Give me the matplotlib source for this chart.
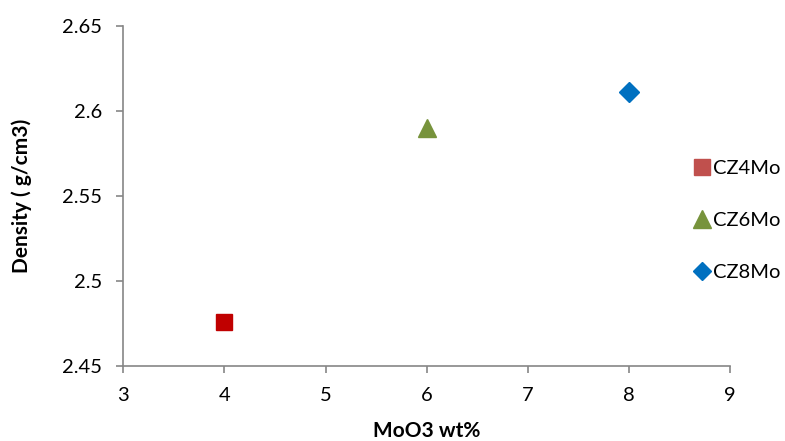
import matplotlib.pyplot as plt
from matplotlib.lines import Line2D

# data
samples = ['CZ4Mo', 'CZ6Mo', 'CZ8Mo']
moo3 = [4, 6, 8]
density = [2.476, 2.590, 2.611]

markers = ['s', '^', 'D']
point_colors = ['#C00000', '#77933C', '#0070C0']
legend_colors = ['#C0504D', '#77933C', '#0070C0']
sizes = [12, 13, 10]

plt.rcParams['font.family'] = ['Lato', 'DejaVu Sans']

fig = plt.figure(figsize=(7.85, 4.41), dpi=100)
ax = fig.add_axes([0.157, 0.170, 0.773, 0.771])

for x, y, m, c, s in zip(moo3, density, markers, point_colors, sizes):
    ax.plot(x, y, marker=m, color=c, markersize=s, linestyle='none')

ax.set_xlim(3, 9)
ax.set_ylim(2.45, 2.65)
ax.set_xticks([3, 4, 5, 6, 7, 8, 9])
ax.set_yticks([2.45, 2.5, 2.55, 2.6, 2.65])
ax.set_yticklabels(['2.45', '2.5', '2.55', '2.6', '2.65'])

for side in ['top', 'right']:
    ax.spines[side].set_visible(False)
for side in ['left', 'bottom']:
    ax.spines[side].set_color('#868686')
    ax.spines[side].set_linewidth(1.2)
ax.tick_params(colors='#868686', labelcolor='black', labelsize=14.5, length=5, width=1.2)
ax.tick_params(axis='x', pad=10)
ax.tick_params(axis='y', pad=10)

ax.set_xlabel('MoO3 wt%', fontweight='bold', fontsize=15, labelpad=12)
ax.set_ylabel('Density ( g/cm3)', fontweight='bold', fontsize=15, labelpad=22)

handles = [Line2D([], [], marker=m, color=c, markersize=s * 0.95, linestyle='none')
           for m, c, s in zip(markers, legend_colors, sizes)]
ax.legend(handles, samples, loc='center left', bbox_to_anchor=(0.87, 0.50),
          bbox_transform=fig.transFigure, frameon=False, fontsize=14.5,
          handletextpad=0.0, labelspacing=1.72, handlelength=1.1, borderaxespad=0)

plt.savefig('out.png')
